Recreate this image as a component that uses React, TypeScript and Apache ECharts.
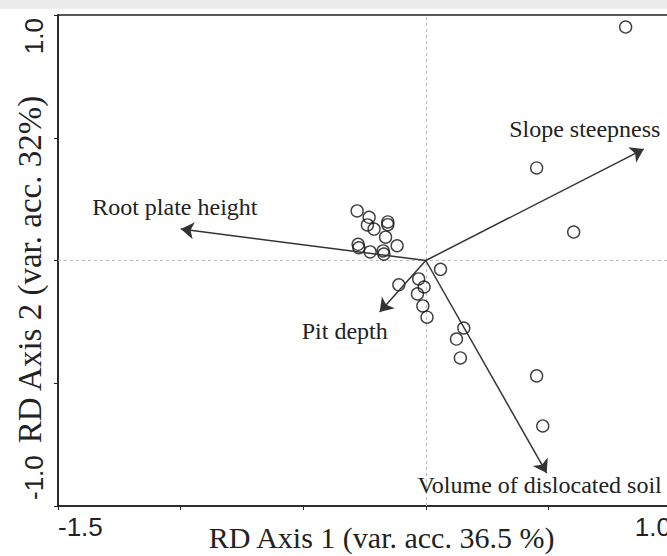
import React, { useEffect, useRef } from 'react';
import * as echarts from 'echarts';

// Site scores (RDA axis 1, axis 2)
const siteX = [0.815, 0.452, 0.603, 0.452, 0.477, -0.28, -0.231, -0.238, -0.211, -0.155, -0.155, -0.164, -0.117, -0.276, -0.273, -0.227, -0.174, -0.171, 0.06, -0.11, -0.029, -0.007, -0.034, -0.012, 0.005, 0.155, 0.125, 0.141];
const siteY = [0.951, 0.377, 0.116, -0.47, -0.674, 0.202, 0.176, 0.145, 0.128, 0.157, 0.146, 0.095, 0.06, 0.066, 0.052, 0.035, 0.039, 0.026, -0.036, -0.099, -0.075, -0.108, -0.136, -0.185, -0.231, -0.275, -0.32, -0.397];

// Explanatory variable vectors
const loadingNames = ['Root plate height', 'Slope steepness', 'Pit depth', 'Volume of dislocated soil'];
const loadingX = [-0.999, 0.889, -0.188, 0.493];
const loadingY = [0.128, 0.454, -0.21, -0.866];

const xAxisName = 'RD Axis 1 (var. acc. 36.5 %)';
const yAxisName = 'RD Axis 2 (var. acc. 32%)';
const xMin = -1.5;
const xMax = 1.0;
const yMin = -1.0;
const yMax = 1.0;
const tickStep = 0.5;
const xTickLabels = ['-1.5', '1.0'];
const yTickLabels = ['-1.0', '1.0'];

export default function App() {
  const ref = useRef<HTMLDivElement>(null);

  useEffect(() => {
    if (!ref.current) return;
    const chart = echarts.init(ref.current, null, { renderer: 'svg' });
    const serif = '"Liberation Serif", "Times New Roman", serif';
    const sans = '"Liberation Sans", Arial, sans-serif';

    chart.setOption({
      animation: false,
      backgroundColor: 'transparent',
      grid: {
        left: 58,
        top: 15,
        width: 613,
        height: 491,
        show: true,
        borderColor: '#222',
        borderWidth: 1.6,
        backgroundColor: '#fff',
      },
      xAxis: {
        type: 'value',
        min: xMin,
        max: xMax,
        interval: tickStep,
        axisLine: { show: true, onZero: false, lineStyle: { color: '#222', width: 1.5 } },
        axisTick: { show: true, length: 4, lineStyle: { color: '#222', width: 1 } },
        splitLine: { show: false },
        axisLabel: {
          show: true,
          margin: 8,
          fontSize: 26,
          fontFamily: sans,
          color: '#222',
          alignMinLabel: 'left',
          alignMaxLabel: 'right',
          formatter: (v: number) => {
            const s = v.toFixed(1);
            return xTickLabels.indexOf(s) >= 0 ? s : '';
          },
        },
      },
      yAxis: {
        type: 'value',
        min: yMin,
        max: yMax,
        interval: tickStep,
        axisLine: { show: true, onZero: false, lineStyle: { color: '#222', width: 1.5 } },
        axisTick: { show: true, length: 4, lineStyle: { color: '#222', width: 1 } },
        splitLine: { show: false },
        axisLabel: { show: false },
      },
      series: [
        {
          type: 'scatter',
          name: 'sites',
          data: siteX.map((x, i) => [x, siteY[i]]),
          symbol: 'circle',
          symbolSize: 12,
          itemStyle: { color: 'rgba(255,255,255,0)', borderColor: '#111', borderWidth: 1.4 },
          z: 3,
          markLine: {
            silent: true,
            symbol: 'none',
            label: { show: false },
            lineStyle: { color: '#bbb', type: [3, 3], width: 1 },
            data: [{ xAxis: 0 }, { yAxis: 0 }],
            z: 1,
          },
        },
        {
          type: 'lines',
          coordinateSystem: 'cartesian2d',
          symbol: ['none', 'arrow'],
          symbolSize: 13,
          lineStyle: { color: '#333', width: 1.5, opacity: 1 },
          itemStyle: { color: '#333' },
          data: loadingNames.map((n, i) => ({ name: n, coords: [[0, 0], [loadingX[i], loadingY[i]]] })),
          z: 4,
        },
      ],
    });

    const px = (x: number, y: number) => chart.convertToPixel({ gridIndex: 0 }, [x, y]) as number[];

    // label offsets (pixels) relative to arrow tips
    const offsets = [
      [-6, -22],
      [-59, -20],
      [-35, 19],
      [-7, 12],
    ];
    const graphics: any[] = loadingNames.map((n, i) => {
      const p = px(loadingX[i], loadingY[i]);
      return {
        type: 'text',
        x: p[0] + offsets[i][0],
        y: p[1] + offsets[i][1],
        style: {
          text: n,
          fontSize: 24,
          fontFamily: serif,
          fill: '#222',
          align: 'center',
          verticalAlign: 'middle',
          textAlign: 'center',
          textVerticalAlign: 'middle',
        },
        z: 10,
      };
    });

    const top = px(xMin, yMax);
    const bottom = px(xMin, yMin);
    const right = px(xMax, yMin);
    graphics.push({
      type: 'text',
      x: top[0] - 24,
      y: top[1] + 3,
      rotation: Math.PI / 2,
      style: {
        text: yTickLabels[1],
        fontSize: 26,
        fontFamily: sans,
        fill: '#222',
        align: 'right',
        verticalAlign: 'middle',
        textAlign: 'right',
        textVerticalAlign: 'middle',
      },
    });
    graphics.push({
      type: 'text',
      x: bottom[0] - 24,
      y: bottom[1] - 6,
      rotation: Math.PI / 2,
      style: {
        text: yTickLabels[0],
        fontSize: 26,
        fontFamily: sans,
        fill: '#222',
        align: 'left',
        verticalAlign: 'middle',
        textAlign: 'left',
        textVerticalAlign: 'middle',
      },
    });
    graphics.push({
      type: 'text',
      x: (bottom[0] + right[0]) / 2 + 17,
      y: bottom[1] + 31,
      style: {
        text: xAxisName,
        fontSize: 30,
        fontFamily: serif,
        fill: '#222',
        align: 'center',
        verticalAlign: 'middle',
        textAlign: 'center',
        textVerticalAlign: 'middle',
      },
    });
    graphics.push({
      type: 'text',
      x: bottom[0] - 28,
      y: (top[1] + bottom[1]) / 2 + 9,
      rotation: Math.PI / 2,
      style: {
        text: yAxisName,
        fontSize: 33,
        fontFamily: serif,
        fill: '#222',
        align: 'center',
        verticalAlign: 'middle',
        textAlign: 'center',
        textVerticalAlign: 'middle',
      },
    });

    chart.setOption({ graphic: graphics });

    return () => chart.dispose();
  }, []);

  return (
    <div style={{ position: 'fixed', left: 0, top: 0, width: 667, height: 556, overflow: 'hidden', background: '#fff' }}>
      <div ref={ref} style={{ position: 'absolute', left: 0, top: 0, width: 690, height: 556 }} />
      <div style={{ position: 'absolute', left: 0, top: 0, width: 667, height: 9, background: '#ececec' }} />
    </div>
  );
}
